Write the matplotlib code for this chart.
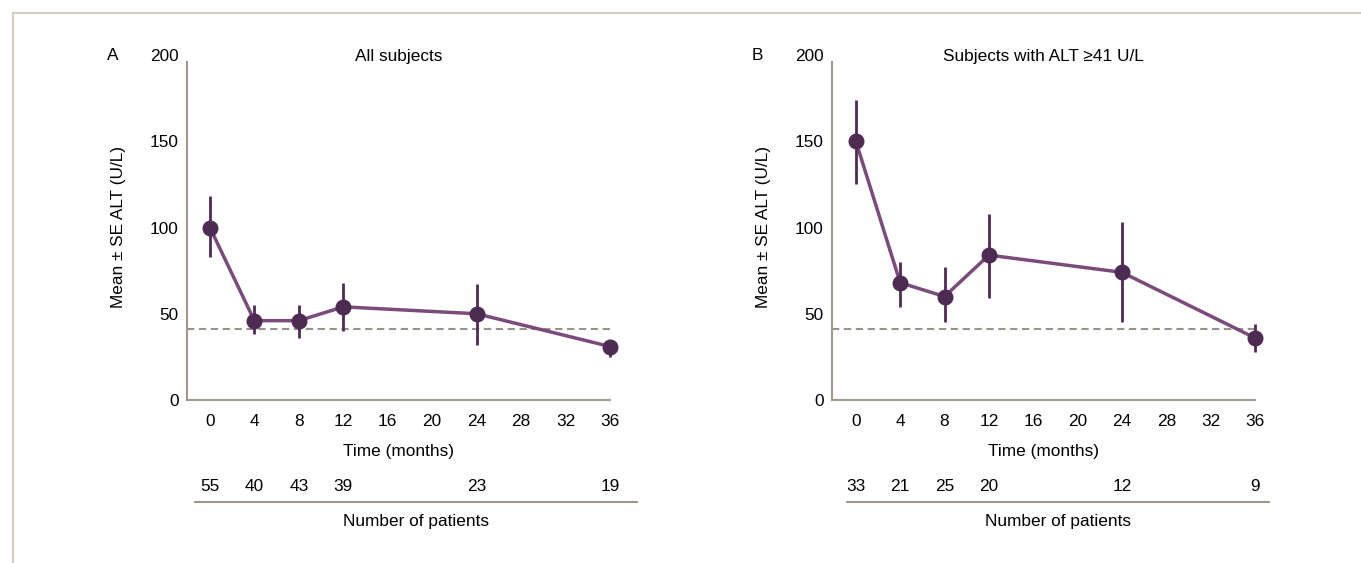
import numpy as np
import matplotlib.pyplot as plt
from matplotlib.lines import Line2D
import matplotlib.transforms as mtransforms

plt.rcParams['font.family'] = ['Liberation Sans', 'DejaVu Sans']

# Visit times (months)
months = [0, 4, 8, 12, 24, 36]

# Panel A: all subjects
mean_all = [100, 46, 46, 54, 50, 31]
lo_all = [83, 38, 36, 40, 32, 25]
hi_all = [118, 55, 55, 68, 67, 35]
n_all = [55, 40, 43, 39, 23, 19]

# Panel B: subjects with ALT >= 41 U/L
mean_high = [150, 68, 60, 84, 74, 36]
lo_high = [125, 54, 45, 59, 45, 28]
hi_high = [174, 80, 77, 108, 103, 44]
n_high = [33, 21, 25, 20, 12, 9]

alt_limit = 41
xticks = [0, 4, 8, 12, 16, 20, 24, 28, 32, 36]
yticks = [0, 50, 100, 150, 200]

LINE_C = '#7b4b7b'
DOT_C = '#4e2b52'
AXIS_C = '#9e998c'
DASH_C = '#9a938b'
FS = 12.4

W, H = 1361, 563
fig = plt.figure(figsize=(W / 100, H / 100), dpi=100)

# thin frame along the top and left edge
fig.add_artist(Line2D([13 / W, 13 / W], [0, 1 - 13 / H],
                      color='#d3cec1', lw=1.6, transform=fig.transFigure))
fig.add_artist(Line2D([13 / W, 1], [1 - 13 / H, 1 - 13 / H],
                      color='#d3cec1', lw=1.6, transform=fig.transFigure))


def draw_panel(left_px, xlim, letter, letter_x, title, mean, lo, hi, counts,
               row_span):
    ax = fig.add_axes([left_px / W, 1 - 400 / H, 423 / W, 345 / H])
    ax.plot(months, mean, color=LINE_C, lw=2.5, zorder=2, clip_on=False)
    yerr = [np.array(mean) - np.array(lo), np.array(hi) - np.array(mean)]
    ax.errorbar(months, mean, yerr=yerr, fmt='o', color=DOT_C, ms=10.5,
                elinewidth=2.0, capsize=0, zorder=3, clip_on=False)
    ax.axhline(alt_limit, color=DASH_C, lw=1.5, ls=(0, (3.5, 2.2)), zorder=1)

    ax.set_xlim(*xlim)
    ax.set_ylim(0, 200)
    ax.set_xticks(xticks)
    ax.set_yticks(yticks)
    ax.tick_params(length=0, labelsize=FS, colors='black')
    ax.tick_params(axis='x', pad=10)
    ax.tick_params(axis='y', pad=6)
    for side in ['top', 'right']:
        ax.spines[side].set_visible(False)
    for side in ['left', 'bottom']:
        ax.spines[side].set_color(AXIS_C)
        ax.spines[side].set_linewidth(1.5)
    ax.spines['left'].set_bounds(0, 196)

    ax.text(-0.161, 0.5, 'Mean ± SE ALT (U/L)', transform=ax.transAxes,
            rotation=90, ha='center', va='center', fontsize=FS)
    ax.text(0.5, 1.0 - 2 / 345, title, transform=ax.transAxes, ha='center',
            va='center', fontsize=FS)
    fig.text(letter_x / W, 1 - 55 / H, letter, ha='center', va='center',
             fontsize=FS)
    ax.text(0.5, -0.15, 'Time (months)', transform=ax.transAxes,
            ha='center', va='center', fontsize=FS)

    # number of patients row below the time axis
    trans = mtransforms.blended_transform_factory(ax.transData, ax.transAxes)
    for m, n in zip(months, counts):
        ax.text(m, -0.251, str(n), transform=trans, ha='center',
                va='center', fontsize=FS)
    ax.add_line(Line2D(row_span, [-0.295, -0.295], transform=trans,
                       color=AXIS_C, lw=1.5, clip_on=False))
    ax.text(np.mean(row_span), -0.351, 'Number of patients', transform=trans,
            ha='center', va='center', fontsize=FS)
    return ax


draw_panel(187, (-2.06, 35.95), 'A', 113, 'All subjects',
           mean_all, lo_all, hi_all, n_all, [-1.35, 38.4])
draw_panel(832, (-2.15, 35.8), 'B', 757, 'Subjects with ALT ≥41 U/L',
           mean_high, lo_high, hi_high, n_high, [-0.83, 37.3])

fig.savefig('out.png', dpi=100)
